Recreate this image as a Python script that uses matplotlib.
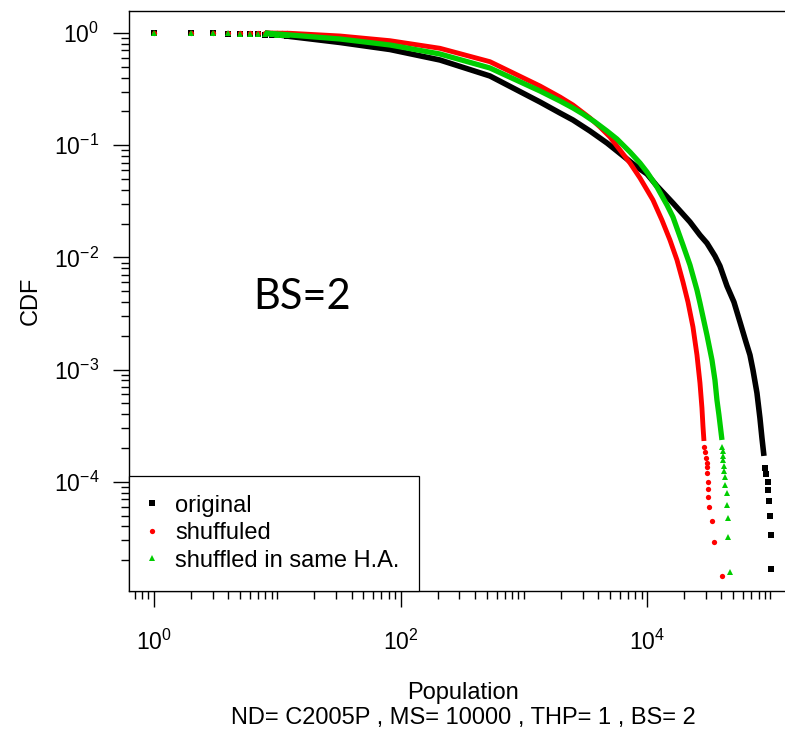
import numpy as np
import matplotlib.pyplot as plt
from matplotlib.ticker import FixedLocator, LogLocator, NullFormatter, FuncFormatter

plt.rcParams['font.family'] = ['Liberation Sans', 'DejaVu Sans']
plt.rcParams['mathtext.fontset'] = 'custom'
plt.rcParams['mathtext.rm'] = 'Liberation Sans'
plt.rcParams['mathtext.it'] = 'Liberation Sans:italic'

# populations 1..12 : head of the ccdf (separate markers)
head_x = [1, 2, 3, 4, 5, 6, 7, 8, 9, 10, 11, 12]
orig_head = [1.0, 0.995, 0.99, 0.985, 0.98, 0.975, 0.97, 0.965, 0.96, 0.955, 0.95, 0.945]
shuf_head = [1.0, 0.999, 0.998, 0.997, 0.996, 0.995, 0.994, 0.993, 0.992, 0.991, 0.99, 0.99]
same_head = [1.0, 0.998, 0.995, 0.99, 0.985, 0.98, 0.977, 0.974, 0.971, 0.968, 0.965, 0.962]

# dense middle part (points too close to tell apart)
orig_x = [7.95, 12.68, 32.25, 82.0, 208.7, 531, 1351, 1963, 2502, 3437, 4721, 5690,
          6859, 8266, 9963, 12010, 16190, 22240, 26810, 30550, 35460, 38940, 44390,
          50580, 56580, 63290, 68200, 72140, 77720, 82170, 85310, 88570]
orig_y = [1.0, 0.9307, 0.8229, 0.7126, 0.5743, 0.4137, 0.2427, 0.1936, 0.1677, 0.1338,
          0.1046, 0.0888, 0.0753, 0.0639, 0.0554, 0.0433, 0.0305, 0.0207, 0.0158, 0.0134,
          0.01029, 0.00838, 0.00556, 0.004, 0.00266, 0.00176, 0.00135, 9.92e-4, 6.19e-4,
          3.7e-4, 2.46e-4, 1.7e-4]

shuf_x = [7.95, 12.68, 32.25, 82.0, 208.7, 531, 1351, 1963, 2502, 3437, 4142, 4993,
          6017, 7254, 8744, 11140, 13180, 15300, 17450, 19520, 21430, 23520, 25350,
          26810, 27820, 28350, 28890]
shuf_y = [1.0, 0.9939, 0.9403, 0.8538, 0.7305, 0.5547, 0.337, 0.2689, 0.2282, 0.1748,
          0.1453, 0.1183, 0.0907, 0.0694, 0.051, 0.0325, 0.0215, 0.0143, 0.00948,
          0.00604, 0.004, 0.0024, 0.00135, 7.6e-4, 4.55e-4, 3.14e-4, 2.31e-4]

same_x = [7.95, 12.68, 32.25, 82.0, 208.7, 531, 1351, 1963, 2502, 3015, 3773, 4721,
          5690, 7254, 8744, 9963, 12010, 14480, 16190, 19520, 22240, 25350, 26810,
          30550, 33540, 35460, 36810, 38220, 40430]
same_y = [1.0, 0.9597, 0.8841, 0.7818, 0.6499, 0.4876, 0.3041, 0.2477, 0.2146, 0.1897,
          0.1609, 0.1338, 0.1135, 0.087, 0.0694, 0.0577, 0.0424, 0.0293, 0.0229, 0.0129,
          0.00856, 0.00512, 0.00392, 0.00203, 0.00122, 8.08e-4, 5.36e-4, 3.94e-4, 2.36e-4]

# tails (largest populations, separate markers)
orig_tx = [101000, 100500, 99800, 97200, 95500, 94800, 92000, 90200]
orig_ty = [1.67e-5, 3.34e-5, 5.0e-5, 6.7e-5, 8.4e-5, 1.0e-4, 1.17e-4, 1.34e-4]

shuf_tx = [40400, 34800, 33500, 31700, 31400, 31100, 30900, 30500, 30400, 30300,
           30000, 29400, 28900]
shuf_ty = [1.45e-5, 2.88e-5, 4.5e-5, 6.0e-5, 7.3e-5, 8.6e-5, 1.0e-4, 1.2e-4, 1.35e-4,
           1.48e-4, 1.64e-4, 1.86e-4, 2.04e-4]

same_tx = [46900, 45200, 45000, 44300, 44100, 42700, 42500, 41900, 41700, 41200,
           41100, 41000, 40400]
same_ty = [1.57e-5, 3.22e-5, 4.76e-5, 6.21e-5, 7.94e-5, 9.35e-5, 1.1e-4, 1.25e-4,
           1.38e-4, 1.56e-4, 1.7e-4, 1.88e-4, 2.04e-4]

fig = plt.figure(figsize=(7.85, 7.36), dpi=100)
ax = fig.add_axes([129/785, 1-590.5/736, (785-129)/785, 580/736])
ax.set_xscale('log')
ax.set_yscale('log')

# black
ax.plot(orig_x, orig_y, color='black', lw=4.0, solid_capstyle='butt', solid_joinstyle='round')
h1, = ax.plot(head_x, orig_head, 's', color='black', ms=3.8, mew=0, label='original')
ax.plot(orig_tx, orig_ty, 's', color='black', ms=3.8, mew=0)
# red
ax.plot(shuf_x, shuf_y, color='#ff0000', lw=3.5, solid_capstyle='butt', solid_joinstyle='round')
h2, = ax.plot(head_x, shuf_head, 'o', color='#ff0000', ms=3.8, mew=0, label='shuffuled')
ax.plot(shuf_tx, shuf_ty, 'o', color='#ff0000', ms=3.8, mew=0)
# green
ax.plot(same_x, same_y, color='#00cd00', lw=3.8, solid_capstyle='butt', solid_joinstyle='round')
h3, = ax.plot(head_x, same_head, '^', color='#00cd00', ms=4.5, mew=0,
              label='shuffled in same H.A.')
ax.plot(same_tx, same_ty, '^', color='#00cd00', ms=4.5, mew=0)

ax.set_xlim(10**-0.2027, 10**5.118)
ax.set_ylim(10**-4.969, 10**0.2005)

ax.spines['right'].set_visible(False)
for s in ['left', 'top', 'bottom']:
    ax.spines[s].set_linewidth(1.0)

fmt = FuncFormatter(lambda v, p: '$10^{%d}$' % int(round(np.log10(v))))
ax.xaxis.set_major_locator(FixedLocator([1, 1e2, 1e4]))
ax.xaxis.set_major_formatter(fmt)
ax.xaxis.set_minor_locator(LogLocator(base=10, subs=np.arange(1, 10), numticks=100))
ax.xaxis.set_minor_formatter(NullFormatter())
ax.yaxis.set_major_locator(FixedLocator([1e-4, 1e-3, 1e-2, 1e-1, 1]))
ax.yaxis.set_major_formatter(fmt)
ax.yaxis.set_minor_locator(LogLocator(base=10, subs=np.arange(2, 10), numticks=100))
ax.yaxis.set_minor_formatter(NullFormatter())

ax.tick_params(which='major', direction='out', length=11.5, width=1.0, labelsize=16.5)
ax.tick_params(which='minor', direction='out', length=5.8, width=1.0)
ax.tick_params(axis='y', which='major', pad=10)
ax.tick_params(axis='x', which='major', pad=16.5)

leg = ax.legend(handles=[h1, h2, h3], loc='lower left', bbox_to_anchor=(0, 0),
                borderaxespad=0, fontsize=17, frameon=True, fancybox=False,
                edgecolor='black', framealpha=1, numpoints=1, borderpad=0.8,
                handlelength=0.38, handletextpad=0.78, labelspacing=0.23)
leg.get_frame().set_linewidth(0.9)

fig.text(31/785, 1-300.5/736, 'CDF', rotation=90, ha='center', va='center', fontsize=17)
fig.text(463/785, 1-693/736, 'Population', ha='center', va='center', fontsize=17)
fig.text(463/785, 1-718/736, 'ND= C2005P , MS= 10000 , THP= 1 , BS= 2',
         ha='center', va='center', fontsize=17)
fig.text(302/785, 1-297/736, 'BS=2', ha='center', va='center', fontsize=30,
         family=['Lato', 'DejaVu Sans'])

fig.savefig('out.png', dpi=100)
